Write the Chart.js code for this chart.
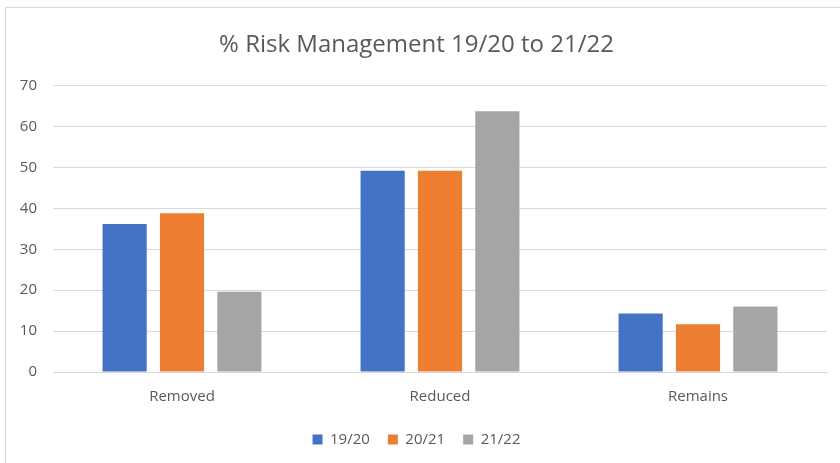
<!DOCTYPE html>
<html>
<head>
<meta charset="utf-8">
<script src="https://cdn.jsdelivr.net/npm/chart.js@4"></script>
<style>
  html, body { margin: 0; padding: 0; background: #fff; }
  #wrap { position: absolute; left: 5px; top: 7px; width: 840px; height: 463px; border: 1px solid #d9d9d9; box-sizing: border-box; }
  #chart { display: block; }
</style>
</head>
<body>
<div id="wrap"><canvas id="chart" width="835" height="456"></canvas></div>
<script>
const categories = ['Removed', 'Reduced', 'Remains'];
const seriesNames = ['19/20', '20/21', '21/22'];
const values1920 = [36.2, 49.2, 14.3];
const values2021 = [38.8, 49.2, 11.7];
const values2122 = [19.6, 63.8, 16.0];
const colors = ['#4472c4', '#ed7d31', '#a5a5a5'];

const ctx = document.getElementById('chart').getContext('2d');
const textColor = '#595959';

new Chart(ctx, {
    type: 'bar',
    data: {
        labels: categories,
        datasets: [values1920, values2021, values2122].map(function (vals, i) {
            return {
                label: seriesNames[i],
                data: vals,
                backgroundColor: colors[i],
                categoryPercentage: 0.667,
                barPercentage: 0.77
            };
        })
    },
    options: {
        responsive: false,
        animation: false,
        layout: { padding: { left: 0, right: 14, top: 15, bottom: 7 } },
        plugins: {
            title: {
                display: true,
                text: '% Risk Management 19/20 to 21/22',
                color: textColor,
                font: { family: 'Open Sans', size: 24, weight: 'normal' },
                padding: { top: 8, bottom: 26 }
            },
            legend: {
                position: 'bottom',
                labels: {
                    color: textColor,
                    font: { family: 'Open Sans', size: 15 },
                    boxWidth: 10,
                    boxHeight: 10,
                    padding: 18
                }
            },
            tooltip: { enabled: false }
        },
        scales: {
            x: {
                grid: { display: false },
                border: { color: '#d9d9d9' },
                ticks: { color: textColor, font: { family: 'Open Sans', size: 15 }, padding: 8 }
            },
            y: {
                min: 0,
                max: 70,
                ticks: { stepSize: 10, color: textColor, font: { family: 'Open Sans', size: 15 }, padding: 16 },
                grid: { color: '#d9d9d9', drawTicks: false },
                border: { display: false },
                afterFit: function (scale) { scale.width = 47; }
            }
        }
    }
});
</script>
</body>
</html>
